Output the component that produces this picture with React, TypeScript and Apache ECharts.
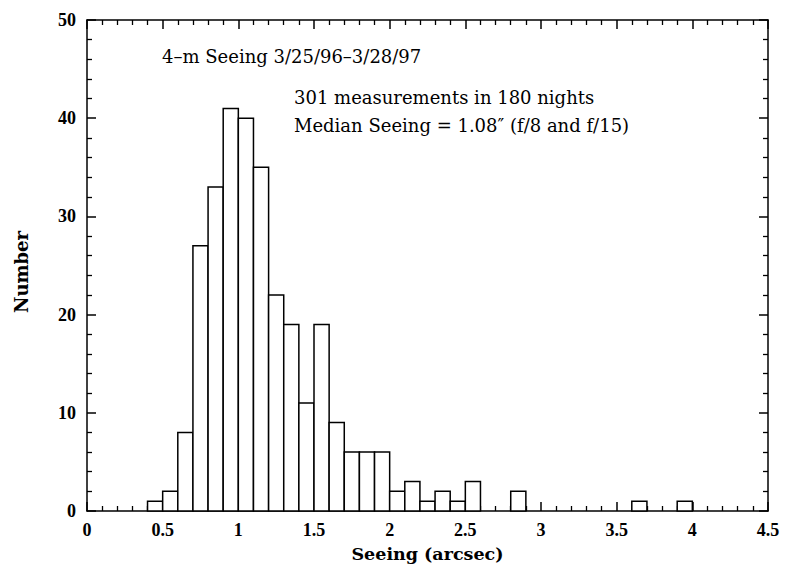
import React, { useEffect, useRef } from "react";
import * as echarts from "echarts";

// Histogram bins (lower edge, arcsec) and counts
const binStarts = [0.4, 0.5, 0.6, 0.7, 0.8, 0.9, 1.0, 1.1, 1.2, 1.3, 1.4, 1.5, 1.6, 1.7, 1.8, 1.9, 2.0, 2.1, 2.2, 2.3, 2.4, 2.5, 2.8, 3.6, 3.9];
const counts = [1, 2, 8, 27, 33, 41, 40, 35, 22, 19, 11, 19, 9, 6, 6, 6, 2, 3, 1, 2, 1, 3, 2, 1, 1];
const binWidth = 0.1;

const annotations = [
  "4\u2013m Seeing 3/25/96\u20133/28/97",
  "301 measurements in 180 nights",
  "Median Seeing = 1.08\u2033 (f/8 and f/15)",
];
const xTitle = "Seeing (arcsec)";
const yTitle = "Number";

const SERIF = "'DejaVu Serif', 'Liberation Serif', serif";

export default function App() {
  const ref = useRef<HTMLDivElement>(null);
  useEffect(() => {
    if (!ref.current) return;
    const chart = echarts.init(ref.current, undefined, { renderer: "svg" });
    const data = binStarts.map((s, i) => [s, s + binWidth, counts[i]]);
    const axisCommon = {
      axisLine: { show: true, onZero: false, lineStyle: { color: "#000", width: 1.5 } },
      axisTick: { show: true, inside: true, length: 9, lineStyle: { color: "#000", width: 1.5 } },
      minorTick: { show: true, splitNumber: 5, length: 5, lineStyle: { color: "#000", width: 1.3 } },
      splitLine: { show: false },
    };
    const labelStyle = {
      color: "#000",
      fontFamily: "'Liberation Serif', serif",
      fontWeight: "bold" as const,
      fontSize: 18,
    };
    const nameStyle = { color: "#000", fontFamily: SERIF, fontWeight: "bold" as const, fontSize: 17.5 };
    chart.setOption({
      animation: false,
      backgroundColor: "#fff",
      grid: { left: 87, right: 21, top: 20, bottom: 62, containLabel: false },
      xAxis: [
        {
          type: "value",
          min: 0,
          max: 4.5,
          interval: 0.5,
          position: "bottom",
          ...axisCommon,
          axisLabel: { ...labelStyle, margin: 10 },
          name: xTitle,
          nameLocation: "middle",
          nameGap: 34,
          nameTextStyle: nameStyle,
        },
        {
          type: "value",
          min: 0,
          max: 4.5,
          interval: 0.5,
          position: "top",
          ...axisCommon,
          axisLabel: { show: false },
        },
      ],
      yAxis: [
        {
          type: "value",
          min: 0,
          max: 50,
          interval: 10,
          position: "left",
          ...axisCommon,
          axisLabel: { ...labelStyle, margin: 11 },
          name: yTitle,
          nameLocation: "middle",
          nameGap: 57,
          nameRotate: 90,
          nameTextStyle: { ...nameStyle, fontSize: 18, padding: [0, 13, 0, 0] },
        },
        {
          type: "value",
          min: 0,
          max: 50,
          interval: 10,
          position: "right",
          ...axisCommon,
          axisLabel: { show: false },
        },
      ],
      series: [
        {
          type: "custom",
          xAxisIndex: 0,
          yAxisIndex: 0,
          data,
          renderItem: (params: any, api: any) => {
            const x0 = api.value(0);
            const x1 = api.value(1);
            const y = api.value(2);
            const p0 = api.coord([x0, y]);
            const p1 = api.coord([x1, 0]);
            return {
              type: "rect",
              shape: { x: p0[0], y: p0[1], width: p1[0] - p0[0], height: p1[1] - p0[1] },
              style: { fill: "#fff", stroke: "#000", lineWidth: 1.5 },
            };
          },
        },
      ],
      graphic: [
        {
          type: "text",
          left: 162,
          top: 47,
          style: { text: annotations[0], fill: "#000", font: `18px ${SERIF}` },
        },
        {
          type: "text",
          left: 294,
          top: 88,
          style: { text: annotations[1], fill: "#000", font: `18px ${SERIF}` },
        },
        {
          type: "text",
          left: 294,
          top: 116,
          style: { text: annotations[2], fill: "#000", font: `18px ${SERIF}` },
        },
      ],
    });
    return () => chart.dispose();
  }, []);
  return <div ref={ref} style={{ width: 789, height: 573, position: "absolute", left: 0, top: 0 }} />;
}
